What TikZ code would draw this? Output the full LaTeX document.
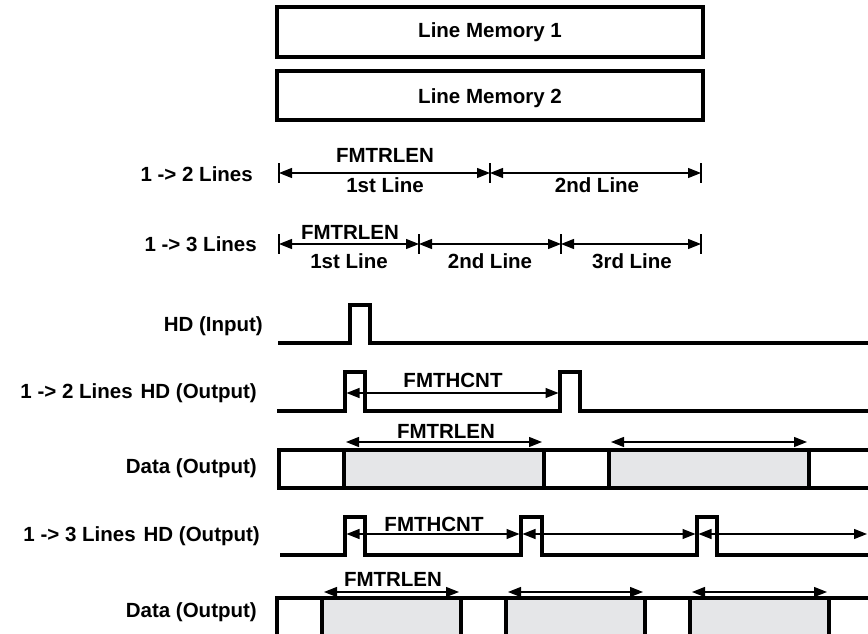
\documentclass[tikz,border=0pt]{standalone}
\usepackage{fontspec}
\setmainfont{Liberation Sans}
\usepackage{tikz}
\usetikzlibrary{arrows.meta}
\definecolor{datashade}{RGB}{229,230,232}
\tikzset{
  sig/.style={line width=3.2pt, line join=miter},
  dimtick/.style={line width=1.3pt},
  dimarrow/.style={line width=1.3pt, {Triangle[length=13pt,width=10pt]}-{Triangle[length=13pt,width=10pt]}},
  lbl/.style={font=\fontsize{20.5}{24}\selectfont\bfseries, inner sep=0pt},
}

\begin{document}
\begin{tikzpicture}[x=1pt,y=-1pt]
          \useasboundingbox (0,0) rectangle (868,634);
          \clip (0,0) rectangle (868,634);
          \draw[sig] (277,7) rectangle (703,57);
          \node[lbl] (mem1) at (490,32.5) {Line Memory 1};
          \draw[sig] (277,71) rectangle (703,120);
          \node[lbl] (mem2) at (490,98) {Line Memory 2};
          \node[lbl, anchor=east] (twolines) at (253,174) {1 -> 2 Lines};
          \foreach \x in {279,490,701} \draw[dimtick] (\x,163) -- (\x,183);
          \draw[dimarrow] (279,173) -- (490,173);
          \draw[dimarrow] (490,173) -- (701,173);
          \node[lbl] (lenA) at (385,155) {FMTRLEN};
          \node[lbl] (firstA) at (385,185) {1st Line};
          \node[lbl] (secondA) at (597,185) {2nd Line};
          \node[lbl, anchor=east] (threelines) at (257,244) {1 -> 3 Lines};
          \foreach \x in {279,419,561,701} \draw[dimtick] (\x,234) -- (\x,254);
          \draw[dimarrow] (279,244) -- (419,244);
          \draw[dimarrow] (419,244) -- (561,244);
          \draw[dimarrow] (561,244) -- (701,244);
          \node[lbl] (lenB) at (350,232) {FMTRLEN};
          \node[lbl] (firstB) at (349,261) {1st Line};
          \node[lbl] (secondB) at (490,261) {2nd Line};
          \node[lbl] (thirdB) at (632,261) {3rd Line};
          \node[lbl, anchor=east] (hdin) at (263,326) {HD (Input)};
          \draw[sig] (278,343) -- (350,343) -- (350,305) -- (370,305) -- (370,343) -- (872,343);
          \node[lbl, anchor=east] (hdoutA) at (257,393) {1 -> 2 Lines\hspace{8pt}HD (Output)};
          \draw[sig] (277,411) -- (345,411) -- (345,372) -- (365,372) -- (365,411) -- (560,411) -- (560,372) -- (580,372) -- (580,411) -- (872,411);
          \draw[dimarrow] (346.5,393) -- (558.5,393);
          \node[lbl] (cntA) at (453,380) {FMTHCNT};
          \node[lbl, anchor=east] (dataA) at (257,468) {Data (Output)};
          \fill[datashade] (344,450) rectangle (544,488);
          \fill[datashade] (609,450) rectangle (809,488);
          \draw[sig] (872,450) -- (279,450) -- (279,488) -- (872,488);
          \foreach \x in {344,544,609,809} \draw[sig] (\x,450) -- (\x,488);
          \draw[dimarrow] (346,442) -- (542,442);
          \draw[dimarrow] (611,442) -- (807,442);
          \node[lbl] (lenC) at (446,431) {FMTRLEN};
          \node[lbl, anchor=east] (hdoutB) at (260,536) {1 -> 3 Lines\hspace{8pt}HD (Output)};
          \draw[sig] (280,555) -- (345,555) -- (345,517) -- (365,517) -- (365,555) -- (521,555) -- (521,517) -- (542,517) -- (542,555) -- (697,555) -- (697,517) -- (717,517) -- (717,555) -- (872,555);
          \draw[dimarrow] (346.5,534) -- (519.5,534);
          \draw[dimarrow] (522.5,534) -- (695.5,534);
          \draw[dimarrow] (698.5,534) -- (867,534);
          \node[lbl] (cntB) at (434,524) {FMTHCNT};
          \node[lbl, anchor=east] (dataB) at (257,612) {Data (Output)};
          \fill[datashade] (322,598) rectangle (461,645);
          \fill[datashade] (506,598) rectangle (645,645);
          \fill[datashade] (690,598) rectangle (829,645);
          \draw[sig] (872,598) -- (277,598) -- (277,645);
          \foreach \x in {322,461,506,645,690,829} \draw[sig] (\x,598) -- (\x,645);
          \draw[dimarrow] (324,592) -- (459,592);
          \draw[dimarrow] (508,592) -- (643,592);
          \draw[dimarrow] (692,592) -- (827,592);
          \node[lbl] (lenD) at (393,579) {FMTRLEN};
        \end{tikzpicture}
\end{document}
